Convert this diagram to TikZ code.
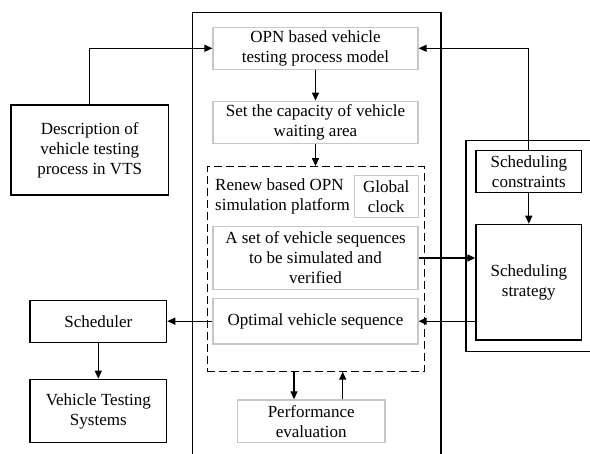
\documentclass[tikz,border=0pt]{standalone}
\usepackage{fontspec}
\setmainfont{Liberation Serif}
\usetikzlibrary{arrows.meta}
\begin{document}
\begin{tikzpicture}[x=1pt,y=-1pt,
  every node/.style={font=\fontsize{17}{20}\selectfont, inner sep=0pt, align=center},
  blk/.style={draw=black, line width=1.2pt},
  gry/.style={draw=black!22, line width=1.2pt},
  arr/.style={line width=1.2pt, -{Triangle[length=8pt,width=7pt]}},
  ln/.style={line width=1.2pt}]
\useasboundingbox (0,0) rectangle (590,454);
\begin{scope}
\clip (0,0) rectangle (590,454);
\draw[line width=1.3pt] (441,470) -- (441,12.7) -- (192.7,12.7) -- (192.7,470);
\draw[line width=1.3pt] (600,140.7) -- (466,140.7) -- (466,351.7) -- (600,351.7);
\end{scope}
\node[gry, minimum width=205pt, minimum height=42pt] (opn) at (315.5,48.3) {OPN based vehicle\\testing process model};
\node[gry, minimum width=205pt, minimum height=42pt] (cap) at (315.5,122.2) {Set the capacity of vehicle\\waiting area};
\node[draw=black, line width=1.2pt, dash pattern=on 8pt off 4pt, minimum width=217pt, minimum height=205pt] (dash) at (315.8,269.2) {};
\node[gry, minimum width=64pt, minimum height=42pt] (clock) at (386.2,196.2) {Global\\clock};
\node[anchor=west, align=left] (renew) at (215,196.5) {Renew based OPN\\simulation platform};
\node[gry, minimum width=205pt, minimum height=62.6pt] (aset) at (315.5,258) {A set of vehicle sequences\\to be simulated and\\verified};
\node[gry, minimum width=205pt, minimum height=45.7pt] (opt) at (315.5,321.2) {Optimal vehicle sequence};
\node[gry, minimum width=147.7pt, minimum height=42.7pt] (perf) at (311.2,421.3) {Performance\\evaluation};
\node[blk, minimum width=157.3pt, minimum height=90pt] (desc) at (89.7,150) {Description of\\vehicle testing\\process in VTS};
\node[blk, minimum width=136.7pt, minimum height=42pt] (sched) at (98.3,321.7) {Scheduler};
\node[blk, minimum width=136.7pt, minimum height=63.4pt] (vts) at (98.3,411) {Vehicle Testing\\Systems};
\node[blk, minimum width=105.7pt, minimum height=41.6pt] (cons) at (528.8,171.5) {Scheduling\\constraints};
\node[blk, minimum width=105.7pt, minimum height=115.7pt] (strat) at (528.8,282.2) {Scheduling\\strategy};
\draw[arr] (desc.north) |- (opn.west);
\draw[arr] (cons.north) |- (opn.east);
\draw[arr] (opn.south) -- (cap.north);
\draw[arr] (cap.south) -- (cap.south |- dash.north);
\draw[arr] (aset.east) -- (aset.east -| strat.west);
\draw[arr] (strat.west |- opt.east) -- (opt.east);
\draw[arr] (opt.west) -- (opt.west -| sched.east);
\draw[arr] (sched.south) -- (vts.north);
\draw[arr] (cons.south) -- (strat.north);
\coordinate (d1) at (294,371.7);
\coordinate (d2) at (342.7,371.7);
\draw[arr] (d1) -- (d1 |- perf.north);
\draw[arr] (d2 |- perf.north) -- (d2);
\end{tikzpicture}
\end{document}
